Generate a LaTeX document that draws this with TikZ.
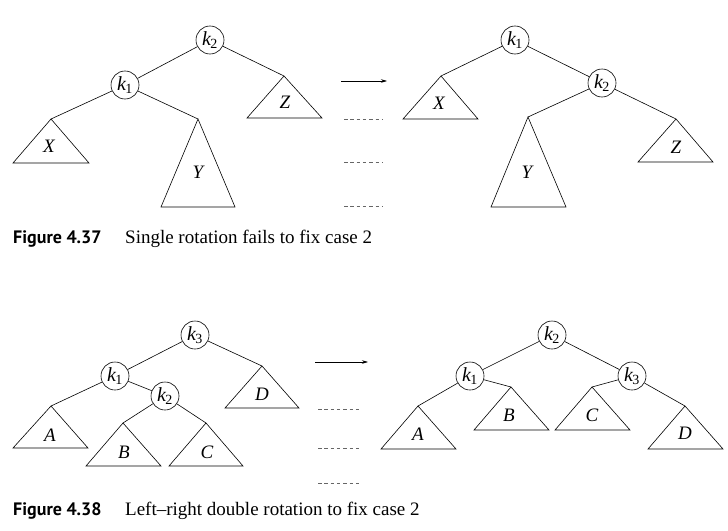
\documentclass[tikz,border=0pt]{standalone}
\usepackage{fontspec}
\setmainfont{Liberation Serif}
\newfontfamily\figsans{PT Sans}
\usetikzlibrary{arrows.meta}
\tikzset{
  knode/.style={circle,draw,line width=0.6pt,minimum size=28pt,inner sep=0pt,font=\fontsize{20}{20}\selectfont\itshape},
  edge/.style={line width=0.6pt},
  tri/.style={line width=0.6pt,line join=miter},
  tlabel/.style={font=\fontsize{19}{19}\selectfont\itshape,inner sep=0pt},
  dashrow/.style={draw=black!60,line width=0.9pt,dash pattern=on 3.5pt off 2.8pt},
  rotarrow/.style={line width=0.6pt,-{Stealth[length=6pt,width=3.5pt]}},
  caption/.style={anchor=base west,inner sep=0pt,font=\fontsize{19}{19}\selectfont}
}
\newcommand{\kk}[1]{k\kern-0.5pt\textsubscript{\upshape #1}}
\newcommand{\fignum}[1]{\makebox[112pt][l]{\fontsize{18}{18}\figsans\bfseries #1}}
\begin{document}
\begin{tikzpicture}[x=1pt,y=-1pt]
\useasboundingbox (0,0) rectangle (728,530);
% ---------- Figure 4.37 left
\node[knode] (a2) at (210,40) {\kk{2}};
\node[knode] (a1) at (125,85) {\kk{1}};
\coordinate (aX) at (51,119);
\coordinate (aY) at (198,119);
\coordinate (aZ) at (284,76);
\draw[tri] (aX) -- ++(-38,44) -- ++(76,0) -- cycle;
\draw[tri] (aY) -- ++(-37,88) -- ++(74,0) -- cycle;
\draw[tri] (aZ) -- ++(-37,42) -- ++(75,0) -- cycle;
\node[tlabel] (laX) at (49,146) {X};
\node[tlabel] (laY) at (198,172) {Y};
\node[tlabel] (laZ) at (285,102) {Z};
\draw[edge] (a2) -- (a1);
\draw[edge] (a2) -- (aZ);
\draw[edge] (a1) -- (aX);
\draw[edge] (a1) -- (aY);
% arrow and dashes
\coordinate (r1s) at (341,81);
\coordinate (r1e) at (387,81);
\draw[rotarrow] (r1s) -- (r1e);
\coordinate (d1a) at (344,119); \coordinate (d1b) at (382,119);
\coordinate (d2a) at (344,162); \coordinate (d2b) at (382,162);
\coordinate (d3a) at (344,206); \coordinate (d3b) at (382,206);
\draw[dashrow] (d1a) -- (d1b);
\draw[dashrow] (d2a) -- (d2b);
\draw[dashrow] (d3a) -- (d3b);
% ---------- Figure 4.37 right
\node[knode] (b1) at (515,40) {\kk{1}};
\node[knode] (b2) at (602,83) {\kk{2}};
\coordinate (bX) at (441,76);
\coordinate (bY) at (528,117);
\coordinate (bZ) at (676,119);
\draw[tri] (bX) -- ++(-38,43) -- ++(75,0) -- cycle;
\draw[tri] (bY) -- ++(-37,90) -- ++(75,0) -- cycle;
\draw[tri] (bZ) -- ++(-38,43) -- ++(75,0) -- cycle;
\node[tlabel] (lbX) at (439,103) {X};
\node[tlabel] (lbY) at (527,172) {Y};
\node[tlabel] (lbZ) at (676,147) {Z};
\draw[edge] (b1) -- (bX);
\draw[edge] (b1) -- (b2);
\draw[edge] (b2) -- (bY);
\draw[edge] (b2) -- (bZ);
% caption 1
\node[caption] (cap1) at (13,243) {\fignum{Figure 4.37}Single rotation fails to fix case 2};
% ---------- Figure 4.38 left
\node[knode] (c3) at (195,335) {\kk{3}};
\node[knode] (c1) at (115,376) {\kk{1}};
\node[knode] (c2) at (165,396) {\kk{2}};
\coordinate (cA) at (51,406);
\coordinate (cB) at (123,423);
\coordinate (cC) at (206,423);
\coordinate (cD) at (262,366);
\draw[tri] (cA) -- ++(-38,42) -- ++(75,0) -- cycle;
\draw[tri] (cB) -- ++(-37,43) -- ++(75,0) -- cycle;
\draw[tri] (cC) -- ++(-37,43) -- ++(74,0) -- cycle;
\draw[tri] (cD) -- ++(-37,42) -- ++(74,0) -- cycle;
\node[tlabel] (lcA) at (50,435) {A};
\node[tlabel] (lcB) at (124,452) {B};
\node[tlabel] (lcC) at (207,452) {C};
\node[tlabel] (lcD) at (262,394) {D};
\draw[edge] (c3) -- (c1);
\draw[edge] (c3) -- (cD);
\draw[edge] (c1) -- (cA);
\draw[edge] (c1) -- (c2);
\draw[edge] (c2) -- (cB);
\draw[edge] (c2) -- (cC);
% arrow and dashes
\coordinate (r2s) at (315,362);
\coordinate (r2e) at (368,362);
\draw[rotarrow] (r2s) -- (r2e);
\coordinate (e1a) at (318,409); \coordinate (e1b) at (362,409);
\coordinate (e2a) at (318,448); \coordinate (e2b) at (362,448);
\coordinate (e3a) at (318,483); \coordinate (e3b) at (362,483);
\draw[dashrow] (e1a) -- (e1b);
\draw[dashrow] (e2a) -- (e2b);
\draw[dashrow] (e3a) -- (e3b);
% ---------- Figure 4.38 right
\node[knode] (f2) at (552,335) {\kk{2}};
\node[knode] (f1) at (470,376) {\kk{1}};
\node[knode] (f3) at (632,376) {\kk{3}};
\coordinate (fA) at (418,406);
\coordinate (fB) at (511,387);
\coordinate (fC) at (592,387);
\coordinate (fD) at (685,406);
\draw[tri] (fA) -- ++(-37,43) -- ++(75,0) -- cycle;
\draw[tri] (fB) -- ++(-37,43) -- ++(75,0) -- cycle;
\draw[tri] (fC) -- ++(-37,43) -- ++(75,0) -- cycle;
\draw[tri] (fD) -- ++(-37,43) -- ++(75,0) -- cycle;
\node[tlabel] (lfA) at (418,434) {A};
\node[tlabel] (lfB) at (509,415) {B};
\node[tlabel] (lfC) at (592,415) {C};
\node[tlabel] (lfD) at (685,433) {D};
\draw[edge] (f2) -- (f1);
\draw[edge] (f2) -- (f3);
\draw[edge] (f1) -- (fA);
\draw[edge] (f1) -- (fB);
\draw[edge] (f3) -- (fC);
\draw[edge] (f3) -- (fD);
% caption 2
\node[caption] (cap2) at (13,515) {\fignum{Figure 4.38}Left--right double rotation to fix case 2};
\end{tikzpicture}
\end{document}
